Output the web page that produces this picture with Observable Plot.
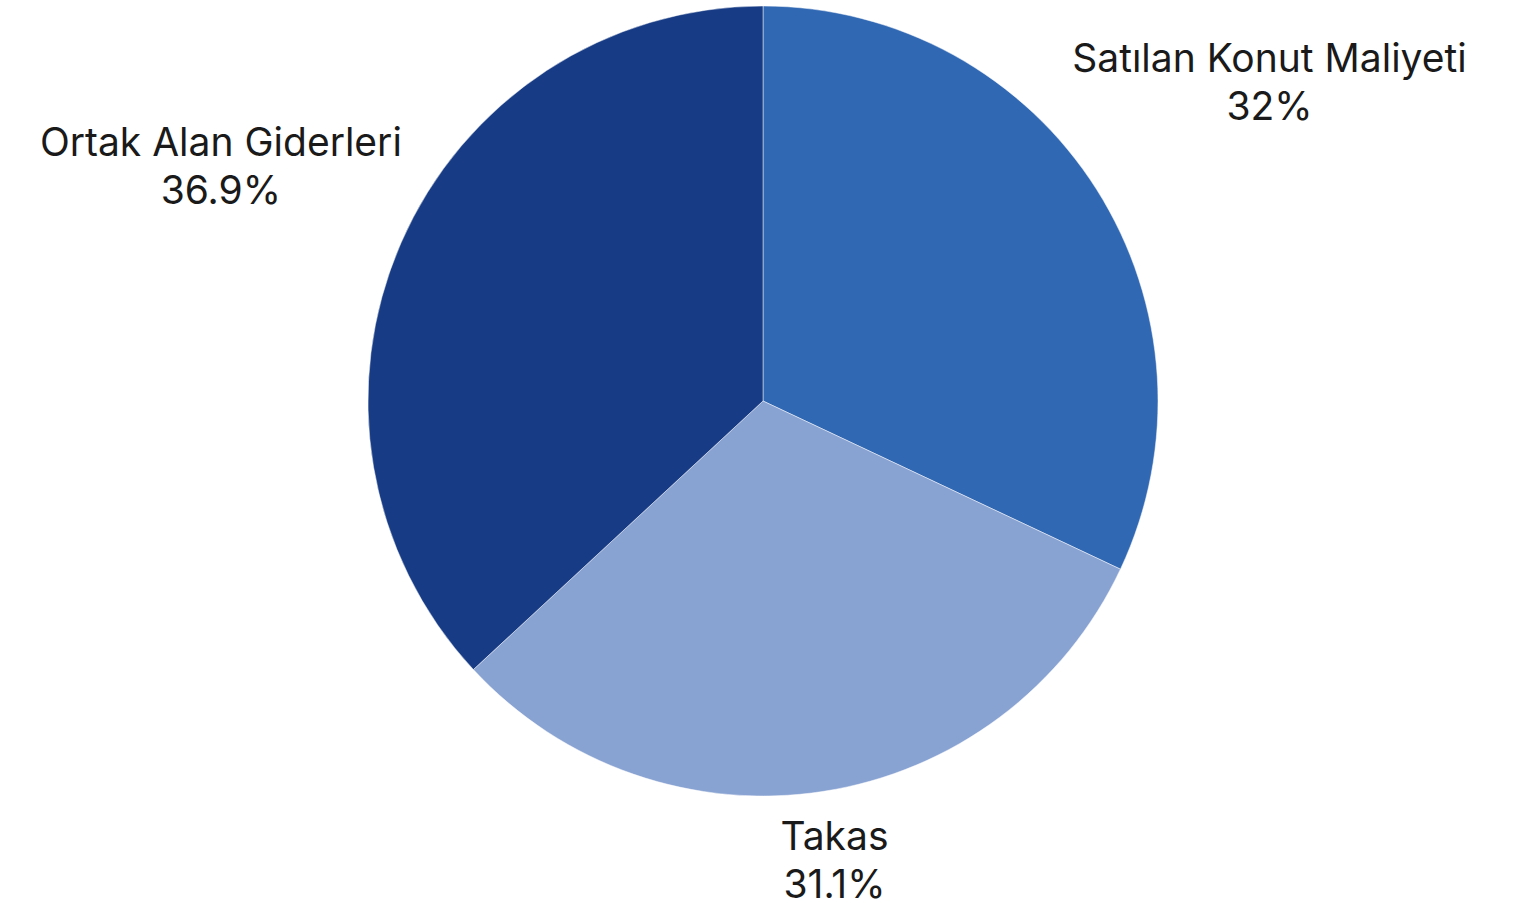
<!DOCTYPE html>
<html>
<head>
<meta charset="utf-8">
<script src="https://cdn.jsdelivr.net/npm/d3@7"></script>
<script src="https://cdn.jsdelivr.net/npm/@observablehq/plot@0.6"></script>
<style>
  html, body { margin: 0; padding: 0; background: #ffffff; }
  #chart svg { display: block; }
</style>
</head>
<body>
<div id="chart"></div>
<script>
const categories = ["Satılan Konut Maliyeti", "Takas", "Ortak Alan Giderleri"];
const values = [32, 31.1, 36.9];
const valueLabels = ["32%", "31.1%", "36.9%"];
const colors = ["#3168b3", "#88a2d2", "#173b84"];

const rows = categories.map((c, i) => ({cat: c, value: values[i], label: valueLabels[i]}));

const arcs = d3.pie().sort(null).value(d => d.value).startAngle(0).endAngle(2 * Math.PI)(rows);

const fontSize = 39;
const lineH = 48;
const ctx = document.createElement("canvas").getContext("2d");
ctx.font = `${fontSize}px Inter`;

const W = 1522, H = 903;
const cx = 763, cy = 401, R = 395;

// label centers: just outside the pie along the mid-angle, pushed out by the text box
const labels = arcs.map(a => {
  const mid = (a.startAngle + a.endAngle) / 2;
  const s = Math.sin(mid), c = Math.cos(mid);
  const w = Math.max(ctx.measureText(a.data.cat).width, ctx.measureText(a.data.label).width);
  const hw = w / 2, hh = lineH;
  const dist = 1 + (12 + hw * Math.abs(s) + hh * Math.abs(c)) / R;
  return {text: a.data.cat + "\n" + a.data.label, x: dist * s, y: dist * c};
});

const chart = Plot.plot({
  width: W,
  height: H,
  margin: 0,
  x: {domain: [-1, 1], range: [cx - R, cx + R], axis: null},
  y: {domain: [-1, 1], range: [cy + R, cy - R], axis: null},
  color: {type: "ordinal", domain: categories, range: colors},
  marks: [
    Plot.dot(arcs, {
      x: () => 0,
      y: () => 0,
      fill: d => d.data.cat,
      render: (index, scales, vals, dimensions, context) => {
        const {x, y, color} = scales;
        const px = x(0), py = y(0), r = x(1) - x(0);
        const arc = d3.arc().innerRadius(0).outerRadius(r);
        const g = d3.create("svg:g").attr("transform", `translate(${px},${py})`);
        g.selectAll("path")
          .data(arcs)
          .join("path")
          .attr("d", arc)
          .attr("fill", d => color(d.data.cat))
          .attr("stroke", "#ffffff")
          .attr("stroke-width", 0.8)
          .attr("stroke-opacity", 0.6);
        return g.node();
      }
    }),
    Plot.text(labels, {
      x: "x",
      y: "y",
      text: "text",
      fontSize: fontSize,
      fontFamily: "Inter",
      fill: "#1a1a1a",
      textAnchor: "middle",
      lineAnchor: "middle",
      lineHeight: lineH / fontSize
    })
  ]
});

document.getElementById("chart").appendChild(chart);
</script>
</body>
</html>
